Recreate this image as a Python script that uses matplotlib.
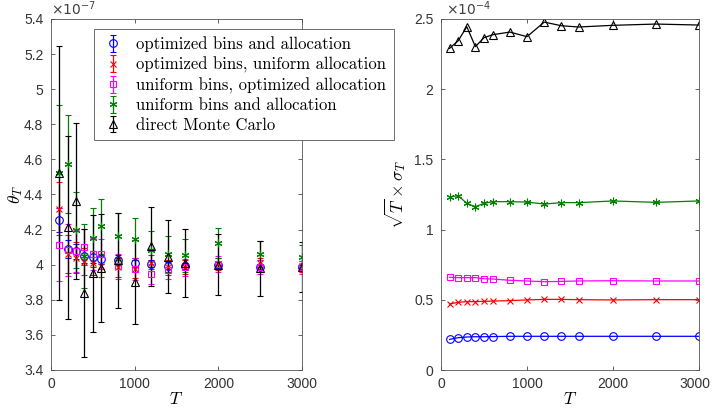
import numpy as np
import matplotlib
matplotlib.use('Agg')
import matplotlib.pyplot as plt
import matplotlib.transforms as mtransforms
from matplotlib.ticker import FixedLocator

plt.rcParams['mathtext.fontset'] = 'cm'
plt.rcParams['font.family'] = ['Liberation Sans', 'DejaVu Sans']

# ---------------- data ----------------
T = [100, 200, 300, 400, 500, 600, 800, 1000, 1200, 1400, 1600, 2000, 2500, 3000]

labels = ['optimized bins and allocation',
          'optimized bins, uniform allocation',
          'uniform bins, optimized allocation',
          'uniform bins and allocation',
          'direct Monte Carlo']

# estimates theta_T, in units of 1e-7
theta_opt_opt = [4.257, 4.088, 4.076, 4.049, 4.045, 4.032, 4.026, 4.012, 4.006, 3.994, 3.992, 4.000, 3.989, 3.985]
theta_opt_uni = [4.320, 4.060, 4.040, 4.017, 4.011, 3.994, 3.985, 3.975, 4.008, 3.985, 3.989, 4.004, 4.008, 3.990]
theta_uni_opt = [4.115, 4.085, 4.080, 4.100, 4.060, 4.060, 3.992, 3.974, 3.945, 3.970, 3.985, 4.004, 3.985, 3.985]
theta_uni_uni = [4.521, 4.573, 4.200, 4.050, 4.153, 4.218, 4.161, 4.147, 4.084, 4.061, 4.054, 4.125, 4.062, 4.045]
theta_mc      = [4.523, 4.212, 4.363, 3.837, 3.950, 3.983, 4.024, 3.901, 4.104, 4.046, 4.009, 4.000, 3.979, 3.986]

# sqrt(T) * sigma_T, in units of 1e-4
sig_opt_opt = [0.218, 0.230, 0.235, 0.237, 0.237, 0.238, 0.240, 0.240, 0.240, 0.240, 0.240, 0.240, 0.240, 0.240]
sig_opt_uni = [0.470, 0.482, 0.487, 0.487, 0.489, 0.491, 0.494, 0.499, 0.503, 0.503, 0.501, 0.499, 0.501, 0.501]
sig_uni_opt = [0.660, 0.658, 0.658, 0.658, 0.650, 0.648, 0.639, 0.634, 0.629, 0.631, 0.634, 0.636, 0.634, 0.634]
sig_uni_uni = [1.232, 1.242, 1.187, 1.163, 1.187, 1.199, 1.199, 1.196, 1.182, 1.192, 1.192, 1.204, 1.194, 1.204]
sig_mc      = [2.291, 2.345, 2.445, 2.303, 2.367, 2.388, 2.407, 2.374, 2.478, 2.452, 2.443, 2.455, 2.464, 2.457]

# error bar half-width = ERR_K * sigma_T (sigma_T = value / sqrt(T)), in 1e-7 units
ERR_K = 3.16

theta_all = [theta_opt_opt, theta_opt_uni, theta_uni_opt, theta_uni_uni, theta_mc]
sig_all = [sig_opt_opt, sig_opt_uni, sig_uni_opt, sig_uni_uni, sig_mc]

colors = ['#0000ff', '#ff0000', '#ff00ff', '#008000', '#000000']
markers = ['o', 'x', 's', (6, 2, 0), '^']
msizes = [5.5, 4.5, 4.5, 5.5, 6]

AX_COL = '#262626'

fig = plt.figure(figsize=(7.12, 4.08), dpi=100)
ax1 = fig.add_axes([51/712, 1-370/408, 251/712, 351/408])
ax2 = fig.add_axes([441/712, 1-370/408, 258/712, 351/408])

Tarr = np.array(T, dtype=float)
handles = []
for th, sg, c, m, ms, lab in zip(theta_all, sig_all, colors, markers, msizes, labels):
    err = ERR_K * np.array(sg) / np.sqrt(Tarr)
    h = ax1.errorbar(T, th, yerr=err, fmt='', marker=m, linestyle='none',
                     color=c, mfc='none', mec=c, ms=ms, mew=0.8, elinewidth=0.9,
                     capsize=2.3, capthick=0.9, label=lab)
    handles.append(h)
    ax2.plot(T, sg, color=c, marker=m, mfc='none', mec=c, ms=ms, mew=0.8, lw=0.9)

# left axes
ax1.set_xlim(0, 3000)
ax1.set_ylim(3.4, 5.4)
ax1.xaxis.set_major_locator(FixedLocator([0, 1000, 2000, 3000]))
yt1 = [3.4, 3.6, 3.8, 4.0, 4.2, 4.4, 4.6, 4.8, 5.0, 5.2, 5.4]
ax1.set_yticks(yt1)
ax1.set_yticklabels(['%g' % v for v in yt1])
ax1.set_xticklabels(['0', '1000', '2000', '3000'])
ax1.set_xlabel(r'$T$', fontsize=12.5, labelpad=0)
ax1.set_ylabel(r'$\theta_T$', fontsize=12.5)
ax1.yaxis.set_label_coords(-0.105, 0.5)
ax1.text(0.0, 1.003, r'$\times10^{-7}$', transform=ax1.transAxes, ha='left', va='bottom',
         fontsize=10, color='#404040', math_fontfamily='dejavusans')

# right axes
ax2.set_xlim(0, 3000)
ax2.set_ylim(0, 2.5)
ax2.xaxis.set_major_locator(FixedLocator([0, 1000, 2000, 3000]))
ax2.set_xticklabels(['0', '1000', '2000', '3000'])
yt2 = [0, 0.5, 1.0, 1.5, 2.0, 2.5]
ax2.set_yticks(yt2)
ax2.set_yticklabels(['%g' % v for v in yt2])
ax2.set_xlabel(r'$T$', fontsize=12.5, labelpad=0)
ax2.set_ylabel(r'$\sqrt{T}\times\sigma_T$', fontsize=12.5)
ax2.text(0.02, 1.003, r'$\times10^{-4}$', transform=ax2.transAxes, ha='left', va='bottom',
         fontsize=10, color='#404040', math_fontfamily='dejavusans')

for ax in (ax1, ax2):
    ax.tick_params(direction='in', top=True, right=True, length=3, width=0.5,
                   colors=AX_COL, labelcolor='#333333', labelsize=10)
    ax.tick_params(axis='y', pad=5.5)
    ax.tick_params(axis='x', pad=5)
    for sp in ax.spines.values():
        sp.set_color('#555555')
        sp.set_linewidth(0.6)

# keep the last tick label of the right panel inside the figure
last_lbl = ax2.get_xticklabels()[-1]
last_lbl.set_transform(last_lbl.get_transform() +
                       mtransforms.ScaledTranslation(-4/100, 0, fig.dpi_scale_trans))

leg = ax1.legend(handles=handles, labels=labels, loc='upper left',
                 bbox_to_anchor=(94/712, 1-29/408), bbox_transform=fig.transFigure,
                 prop={'family': 'cmr10', 'size': 12}, frameon=True, fancybox=False,
                 edgecolor='#555555', framealpha=1, borderaxespad=0, borderpad=0.45,
                 handlelength=1.4, handletextpad=0.7, labelspacing=0.26)
leg.get_frame().set_linewidth(0.6)

fig.savefig('out.png', dpi=100)
